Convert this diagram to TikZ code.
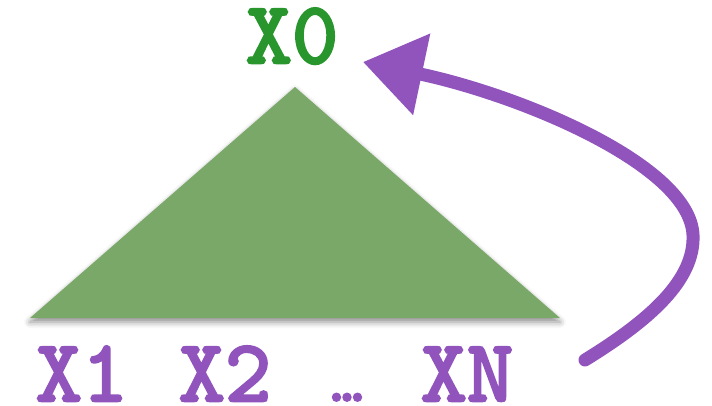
\documentclass[tikz,border=0pt]{standalone}
\usepackage{fontspec}
\newfontfamily\lblfont{lmmono10-regular.otf}[FakeBold=3]
\usetikzlibrary{arrows.meta,shadows.blur}
\definecolor{labgreen}{RGB}{40,150,45}
\definecolor{labpurple}{RGB}{145,84,189}
\definecolor{trigreen}{RGB}{121,168,104}
\tikzset{
  lbl/.style={anchor=base,inner sep=0pt,font=\lblfont\fontsize{88}{88}\selectfont},
  treetri/.style={fill=trigreen,draw=none,blur shadow={shadow xshift=0pt,shadow yshift=-4pt,shadow blur radius=6pt,shadow opacity=45}},
  bigarrow/.style={draw=labpurple,line width=13pt,line cap=round,-{Triangle[length=60pt,width=80pt]}}
}
\begin{document}
\begin{tikzpicture}[x=1pt,y=-1pt]
\path[use as bounding box] (0,0) rectangle (712,406);
\coordinate (apex) at (295,87);
\coordinate (bl) at (30,318);
\coordinate (br) at (560,318);
\path[treetri] (apex) -- (br) -- (bl) -- cycle;
\node[lbl,text=labgreen] (x0) at (292,63) {X0};
\node[lbl,text=labpurple] (x1) at (82,401) {X1};
\node[lbl,text=labpurple] (x2) at (225,401) {X2};
\node[lbl,text=labpurple] (dots) at (347,401) {\fontsize{60}{60}\selectfont\ldots};
\node[lbl,text=labpurple] (xn) at (467,401) {XN};
\coordinate (astart) at (585,360);
\coordinate (amid) at (693,235);
\coordinate (aend) at (363,62);
\draw[bigarrow] (astart) .. controls (650,320) and (695,280) .. (amid) .. controls (690,165) and (520,95) .. (aend);
\end{tikzpicture}
\end{document}
